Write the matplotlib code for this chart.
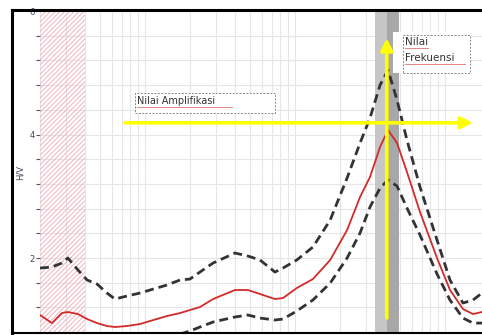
import numpy as np
import matplotlib
matplotlib.use("Agg")
import matplotlib.pyplot as plt
from matplotlib.ticker import MultipleLocator, LogLocator, NullFormatter
from matplotlib.patches import Rectangle
from matplotlib.lines import Line2D

# frequency samples (Hz) shared by all three curves
freq = [0.200, 0.240, 0.280, 0.307, 0.358, 0.412, 0.480, 0.559, 0.632, 0.760,
        0.928, 1.082, 1.405, 1.715, 2.00, 2.33, 2.85, 3.99, 4.87, 5.86,
        7.37, 8.34, 10.3, 13.2, 17.2, 22.3, 27.2, 31.7, 37.0, 41.8,
        48.0, 55.9, 68.3, 88.7, 108.2, 132.1, 154.1, 176.9]

hv_mean = [1.077, 0.947, 1.109, 1.126, 1.093, 1.012, 0.947, 0.899, 0.883, 0.899,
           0.931, 0.980, 1.061, 1.109, 1.158, 1.206, 1.336, 1.482, 1.482, 1.417,
           1.336, 1.352, 1.514, 1.660, 1.968, 2.453, 2.988, 3.312, 3.798, 4.073,
           3.862, 3.393, 2.745, 2.000, 1.482, 1.174, 1.093, 1.126]

hv_upper = [1.838, 1.854, 1.919, 2.000, 1.806, 1.644, 1.579, 1.433, 1.336, 1.385,
            1.433, 1.482, 1.563, 1.644, 1.660, 1.773, 1.919, 2.081, 2.032, 1.968,
            1.773, 1.838, 1.968, 2.178, 2.615, 3.296, 3.862, 4.267, 4.802, 5.045,
            4.559, 3.911, 3.150, 2.291, 1.644, 1.271, 1.320, 1.433]

nan = np.nan
hv_lower = [nan, nan, nan, nan, nan, nan, nan, nan, nan, nan,
            nan, nan, nan, 0.769, 0.818, 0.883, 0.964, 1.045, 1.077, 1.028,
            0.996, 1.012, 1.142, 1.320, 1.595, 2.000, 2.405, 2.826, 3.134, 3.263,
            3.166, 2.810, 2.372, 1.741, 1.320, 1.028, 0.947, 0.947]

f0 = 41.0            # peak frequency
f0_lo, f0_hi = 34.2, 49.3
low_band = (0.2, 0.4)
amp_level = 4.19

W, H = 482, 335
fig = plt.figure(figsize=(W / 100, H / 100), dpi=100)
# axes run a little past the right edge of the picture (chart is cropped there)
ax = fig.add_axes([40 / W, 1 - 333 / H, 460 / W, (333 - 11) / H])

ax.set_xscale("log")
ax.set_xlim(0.2, 0.2 * 10 ** (460 / 150))
ax.set_ylim(0.786, 6)

# grid
ax.yaxis.set_major_locator(MultipleLocator(2))
ax.yaxis.set_minor_locator(MultipleLocator(0.4))
ax.xaxis.set_major_locator(LogLocator(base=10))
ax.xaxis.set_minor_locator(LogLocator(base=10, subs=np.arange(2, 10)))
ax.xaxis.set_major_formatter(NullFormatter())
ax.xaxis.set_minor_formatter(NullFormatter())
ax.grid(True, which="both", color="#e6e6e6", lw=0.8, zorder=0)
ax.set_axisbelow(True)

for s in ["left", "right", "top", "bottom"]:
    ax.spines[s].set_visible(False)
ax.tick_params(axis="x", which="both", length=0)
ax.tick_params(axis="y", which="both", length=3, width=0.8, color="#555555",
               labelsize=6, labelcolor="#444455", pad=1)
ax.set_ylabel("H/V", fontsize=6, color="#444455", labelpad=3)

# low-frequency hatched zone
plt.rcParams["hatch.linewidth"] = 0.7
ax.axvspan(*low_band, facecolor="none", edgecolor="#f0b4be", hatch="///////", lw=0, zorder=1)

# peak frequency bands
ax.axvspan(f0_lo, f0, color="#c6c6c6", lw=0, zorder=1)
ax.axvspan(f0, f0_hi, color="#a8a8a8", lw=0, zorder=1)

# curves
dash = (0, (3.2, 1.8))
ax.plot(freq, hv_upper, color="#333333", lw=2.0, ls=dash, zorder=3)
ax.plot(freq, hv_lower, color="#333333", lw=2.0, ls=dash, zorder=3)
ax.plot(freq, hv_mean, color="#d42a2a", lw=1.3, zorder=4)

# yellow arrows
arrow = dict(arrowstyle="-|>,head_length=0.7,head_width=0.35", color="#ffff00", lw=2.6,
             shrinkA=0, shrinkB=0)
ax.annotate("", xy=(154, amp_level), xytext=(0.736, amp_level), arrowprops=arrow, zorder=5)
ax.annotate("", xy=(f0, 5.56), xytext=(f0, 1.03), arrowprops=arrow, zorder=5)

# text boxes (figure pixels)
def px(x, y):
    return x / W, 1 - y / H

fig.patches.append(Rectangle(px(135, 113), 140 / W, 20 / H, transform=fig.transFigure,
                             facecolor="white", edgecolor="#888888", lw=0.7, ls=(0, (2, 1.5)),
                             zorder=6))
fig.text(*px(137, 101), "Nilai Amplifikasi", fontsize=7, color="#333333",
         va="center", ha="left", zorder=7)
fig.lines.append(Line2D([137 / W, 232 / W], [1 - 107 / H] * 2, transform=fig.transFigure,
                        color="#e07070", lw=0.6, zorder=7))

fig.patches.append(Rectangle(px(393, 73), 77 / W, 41 / H, transform=fig.transFigure,
                             facecolor="white", edgecolor="none", zorder=6))
fig.patches.append(Rectangle(px(403, 73), 67 / W, 38 / H, transform=fig.transFigure,
                             facecolor="none", edgecolor="#888888", lw=0.7, ls=(0, (2, 1.5)),
                             zorder=6))
fig.text(*px(405, 42), "Nilai", fontsize=7.5, color="#333333", va="center", ha="left", zorder=7)
fig.text(*px(405, 58), "Frekuensi", fontsize=7.5, color="#333333", va="center", ha="left", zorder=7)
for x0, x1, yy in [(405, 428, 48), (405, 465, 64)]:
    fig.lines.append(Line2D([x0 / W, x1 / W], [1 - yy / H] * 2, transform=fig.transFigure,
                            color="#e07070", lw=0.6, zorder=7))

# outer frame
for xs, ys, lw in [([12, 12], [10, 335], 2.2), ([12, 490], [10, 10], 2.2), ([12, 490], [333, 333], 1.5)]:
    fig.lines.append(Line2D([x / W for x in xs], [1 - y / H for y in ys],
                            transform=fig.transFigure, color="black", lw=lw, zorder=8))

fig.savefig("out.png", dpi=100)
